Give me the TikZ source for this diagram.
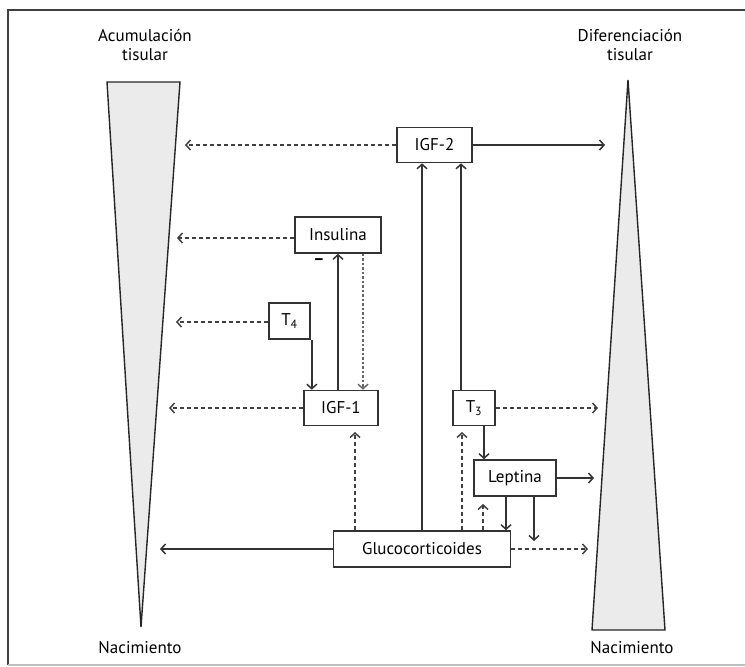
\documentclass[tikz,border=0pt]{standalone}
\usepackage{fontspec}
\setmainfont{PT Sans}
\usetikzlibrary{arrows.meta}
\begin{document}
\begin{tikzpicture}[x=1pt,y=-1pt,
  line width=1.6pt,
  every node/.style={font=\fontsize{17}{19}\selectfont, text=black},
  box/.style={draw=black!80, line width=1.6pt, fill=white, inner sep=0pt, minimum height=35pt},
  lbl/.style={align=center, inner sep=0pt},
  tip/.style={-{Straight Barb[length=4.5pt,width=10pt,line width=1.5pt]}},
  sol/.style={tip, draw=black!80},
  dsh/.style={tip, draw=black!75, dash pattern=on 4pt off 3pt},
  dot/.style={tip, draw=black!60, dash pattern=on 2.5pt off 2pt, line width=1.8pt},
  tri/.style={draw=black!85, line width=1.4pt, fill=black!8}
]
\useasboundingbox (0,0) rectangle (745,667);
% frame
\draw[black!75, line width=1.4pt] (748,10) -- (8,10) -- (8,665);
\draw[black!25, line width=1.4pt] (8,665) -- (748,665);
% triangles
\draw[tri] (107,82) -- (180,82) -- (141,627) -- cycle;
\draw[tri] (628,80) -- (665,630) -- (592,630) -- cycle;
% labels
\node[lbl] (acu) at (145,45) {Acumulación\\tisular};
\node[lbl] (dif) at (630,45) {Diferenciación\\tisular};
\node[lbl] (nac1) at (140,648) {Nacimiento};
\node[lbl] (nac2) at (632,648) {Nacimiento};
% boxes
\node[box, minimum width=75pt] (igf2) at (434.5,145) {IGF-2};
\node[box, minimum width=86pt, minimum height=36pt] (ins) at (338,235) {Insulina};
\node[box, minimum width=41pt, minimum height=36pt] (t4) at (289.5,321) {T\textsubscript{4}};
\node[box, minimum width=74pt] (igf1) at (341,408) {IGF-1};
\node[box, minimum width=42pt] (t3) at (474,408) {T\textsubscript{3}};
\node[box, minimum width=82pt, minimum height=36pt] (lep) at (515,478) {Leptina};
\node[box, minimum width=177pt, minimum height=36pt] (glu) at (422,549) {Glucocorticoides};
% targets on triangles
\coordinate (aIGF2L) at (185,145);
\coordinate (aIGF2R) at (605,145);
\coordinate (aInsL) at (177,238);
\coordinate (aT4L) at (176,322);
\coordinate (aIGF1L) at (169,408);
\coordinate (aT3R) at (598,408);
\coordinate (aLepR) at (594,478);
\coordinate (aGluL) at (160,549);
\coordinate (aGluR) at (588,549);
\coordinate (aLepD) at (534,541);
% side arrows
\draw[dsh] (igf2.west) -- (aIGF2L);
\draw[sol] (igf2.east) -- (aIGF2R);
\draw[dsh] (ins.west |- aInsL) -- (aInsL);
\draw[dsh] (t4.west |- aT4L) -- (aT4L);
\draw[dsh] (igf1.west) -- (aIGF1L);
\draw[dsh] (t3.east) -- (aT3R);
\draw[sol] (lep.east) -- (aLepR);
\draw[sol] (glu.west) -- (aGluL);
\draw[dsh] (glu.east) -- (aGluR);
% internal arrows
\draw[sol] (t4.south east) ++(1,0) coordinate (t4o) -- (t4o |- igf1.north);
\draw[sol] (igf1.north -| 338,0) -- (ins.south -| 338,0);
\node[inner sep=0pt] (minus) at (319,262) {\textbf{–}};
\draw[dot] (ins.south -| 363,0) -- (igf1.north -| 363,0);
\draw[dsh] (glu.north -| 355,0) -- (355,432);
\draw[sol] (glu.north -| 422,0) -- (igf2.south -| 422,0);
\draw[sol] (t3.north -| 461,0) -- (igf2.south -| 461,0);
\draw[dsh] (glu.north -| 462,0) -- (462,432);
\draw[sol] (t3.south -| 484,0) -- (lep.north -| 484,0);
\draw[dsh] (glu.north -| 483,0) -- (483,504);
\draw[sol] (lep.south -| 506,0) -- (glu.north -| 506,0);
\draw[sol] (lep.south -| 534,0) -- (aLepD);
\end{tikzpicture}
\end{document}
